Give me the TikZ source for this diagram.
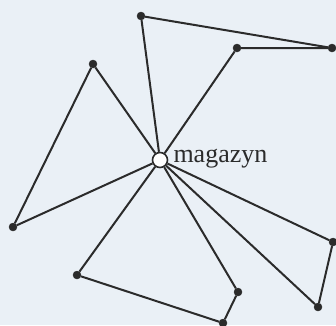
\documentclass[tikz,border=0pt]{standalone}
\usepackage{fontspec}
\setmainfont{Liberation Serif}
\usetikzlibrary{positioning}
\definecolor{paper}{HTML}{EAF0F6}
\definecolor{ink}{HTML}{2B2B2B}

\begin{document}
\begin{tikzpicture}[x=1pt,y=-1pt,
  stop/.style={circle, draw=ink, fill=ink, inner sep=0pt, minimum size=8pt},
  depot/.style={circle, draw=ink, fill=white, line width=1.6pt, inner sep=0pt, minimum size=15pt},
  route/.style={draw=ink, line width=2pt},
]
  \fill[paper] (0,0) rectangle (336,325);
  \useasboundingbox (0,0) rectangle (336,325);

  % Depot
  \node[depot] (M) at (160,160) {};
  \node[right=5pt of M, font=\fontsize{26}{30}\selectfont, text=ink, inner sep=0pt, yshift=1pt] (lab) {magazyn};

  % Customers
  \node[stop] (A) at (141,16) {};
  \node[stop] (B) at (332,48) {};
  \node[stop] (C) at (237,48) {};
  \node[stop] (D) at (93,64) {};
  \node[stop] (E) at (13,227) {};
  \node[stop] (F) at (77,275) {};
  \node[stop] (H) at (223,323) {};
  \node[stop] (G) at (238,292) {};
  \node[stop] (J) at (318,307) {};
  \node[stop] (I) at (333,242) {};

  % Routes
  \draw[route] (M) -- (A) -- (B) -- (C) -- (M);
  \draw[route] (M) -- (D) -- (E) -- (M);
  \draw[route] (M) -- (F) -- (H) -- (G) -- (M);
  \draw[route] (M) -- (J) -- (I) -- (M);
\end{tikzpicture}
\end{document}
